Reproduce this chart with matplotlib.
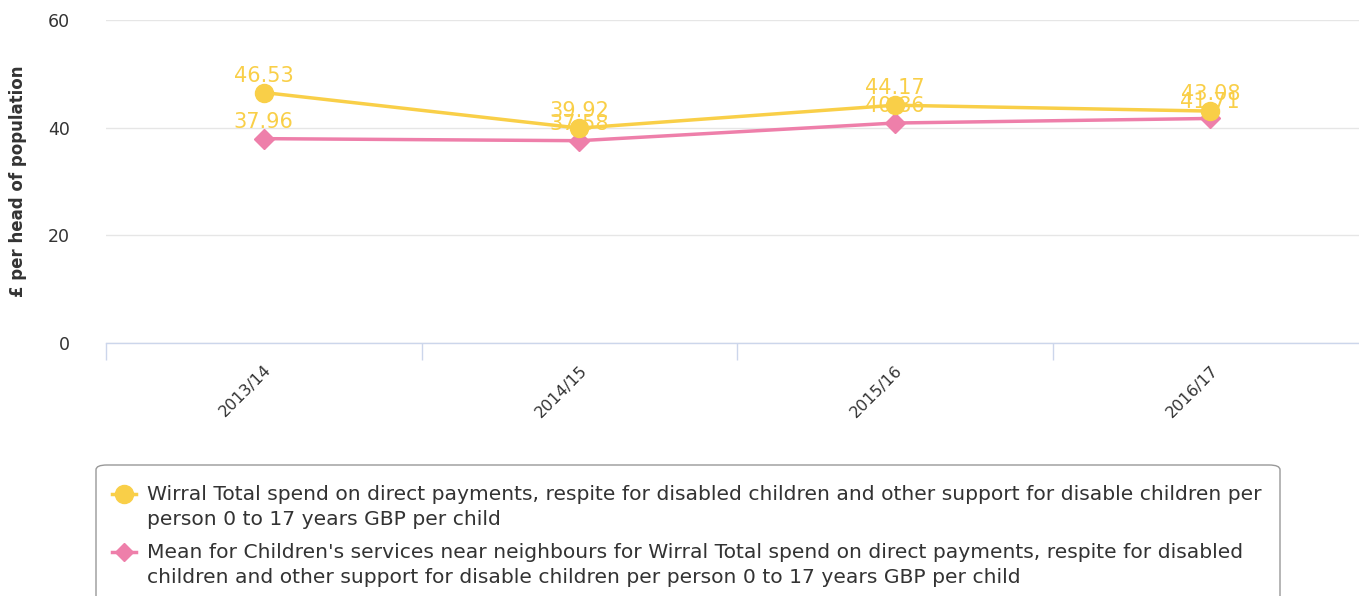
import matplotlib
matplotlib.use("Agg")
import matplotlib.pyplot as plt
from matplotlib.lines import Line2D
from matplotlib.patches import FancyBboxPatch

plt.rcParams["font.family"] = ["DejaVu Sans"]

categories = ["2013/14", "2014/15", "2015/16", "2016/17"]
wirral = [46.53, 39.92, 44.17, 43.08]
neighbours = [37.96, 37.58, 40.86, 41.71]
series_names = [
    "Wirral Total spend on direct payments, respite for disabled children and other support for disable children per\nperson 0 to 17 years GBP per child",
    "Mean for Children's services near neighbours for Wirral Total spend on direct payments, respite for disabled\nchildren and other support for disable children per person 0 to 17 years GBP per child",
]
yticks = [0, 20, 40, 60]

W, H = 1359, 596
fig = plt.figure(figsize=(W / 100, H / 100), dpi=100)
left, right, bottom, top = 106, 1368, 343, 20
ax = fig.add_axes([left / W, 1 - bottom / H, (right - left) / W, (bottom - top) / H])

yellow = "#F9CF48"
pink = "#EE7FAA"
x = list(range(len(categories)))

ax.plot(x, wirral, color=yellow, lw=2.5, marker="o", ms=13, zorder=4, clip_on=False)
ax.plot(x, neighbours, color=pink, lw=2.5, marker="D", ms=10, zorder=3, clip_on=False)
for xi, v in zip(x, wirral):
    ax.annotate(f"{v:.2f}", (xi, v), xytext=(0, 5), textcoords="offset points",
                ha="center", va="bottom", fontsize=15, color=yellow, zorder=5)
for xi, v in zip(x, neighbours):
    ax.annotate(f"{v:.2f}", (xi, v), xytext=(0, 5), textcoords="offset points",
                ha="center", va="bottom", fontsize=15, color=yellow, zorder=5)

ax.set_xlim(-0.5, 3.5)
ax.set_ylim(0, 60)
ax.set_yticks(yticks)
ax.set_yticklabels([str(t) for t in yticks], fontsize=12.5, color="#333333")
ax.tick_params(axis="y", length=0, pad=26)
ax.grid(axis="y", color="#e6e6e6", lw=1)
ax.set_axisbelow(True)
for s in ["top", "right", "left"]:
    ax.spines[s].set_visible(False)
ax.spines["bottom"].set_color("#ccd6eb")
ax.spines["bottom"].set_linewidth(1)

ax.set_xticks(x)
ax.set_xticklabels(categories, rotation=45, ha="right", rotation_mode="anchor",
                   fontsize=11.5, color="#333333")
ax.tick_params(axis="x", length=0, pad=14)
ax.set_xticks([-0.5, 0.5, 1.5, 2.5], minor=True)
ax.tick_params(axis="x", which="minor", length=12, color="#ccd6eb", width=1)

fig.text(18 / W, 1 - 181 / H, "£ per head of population", rotation=90,
         ha="center", va="center", fontsize=12, fontweight="bold", color="#333333")

# legend box
box = FancyBboxPatch((96 / W, -0.05), (1280 - 96) / W, (596 - 465) / H + 0.05,
                     boxstyle="round,pad=0,rounding_size=0.008", transform=fig.transFigure,
                     fc="white", ec="#999999", lw=1, clip_on=False)
fig.add_artist(box)
for (ym, col, mk, ms), name in zip([(494, yellow, "o", 13), (552, pink, "D", 9)], series_names):
    fig.add_artist(Line2D([112 / W, 136 / W], [1 - ym / H] * 2, color=col, lw=2.5,
                          transform=fig.transFigure))
    fig.add_artist(Line2D([124 / W], [1 - ym / H], color=col, marker=mk, ms=ms,
                          transform=fig.transFigure))
    fig.text(147 / W, 1 - (ym - 9) / H, name, ha="left", va="top", fontsize=14.6,
             color="#333333", linespacing=1.38)

fig.savefig("out.png", dpi=100)
